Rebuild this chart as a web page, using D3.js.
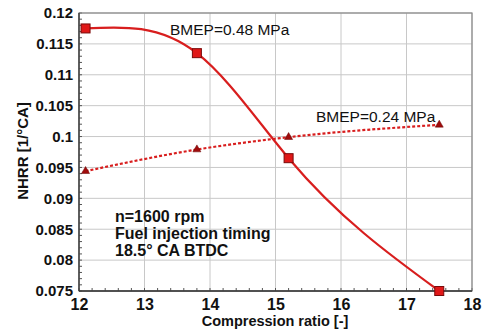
<!DOCTYPE html>
<html><head><meta charset="utf-8">
<script src="https://cdn.jsdelivr.net/npm/d3@7"></script>
<style>body{margin:0;background:#fff}svg text{font-family:Arial,"Liberation Sans",sans-serif}</style>
</head><body><svg id="c" width="486" height="330"></svg>
<script>
const cr = [12.1, 13.8, 15.2, 17.5];
const bmep048 = [0.1175, 0.1135, 0.0965, 0.075];
const bmep024 = [0.0944, 0.0979, 0.0999, 0.1019];
const xTicks = [12, 13, 14, 15, 16, 17, 18];
const yTicks = [0.075, 0.08, 0.085, 0.09, 0.095, 0.1, 0.105, 0.11, 0.115, 0.12];
const yTickLabels = ["0.075","0.08","0.085","0.09","0.095","0.1","0.105","0.11","0.115","0.12"];

// Natural cubic spline curve parameterised by x (a d3 curve factory)
function curveNaturalX(context) {
  return {
    areaStart() {}, areaEnd() {},
    lineStart() { this._x = []; this._y = []; },
    point(px, py) { this._x.push(+px); this._y.push(+py); },
    lineEnd() {
      const X = this._x, Y = this._y, n = X.length;
      if (!n) return;
      context.moveTo(X[0], Y[0]);
      if (n < 3) { for (let i = 1; i < n; i++) context.lineTo(X[i], Y[i]); return; }
      const h = [], s = [];
      for (let i = 0; i < n - 1; i++) { h.push(X[i + 1] - X[i]); s.push((Y[i + 1] - Y[i]) / h[i]); }
      // tridiagonal for interior second derivatives
      const M = new Array(n).fill(0);
      const a = [], b = [], c = [], r = [];
      for (let i = 1; i < n - 1; i++) {
        a.push(h[i - 1]); b.push(2 * (h[i - 1] + h[i])); c.push(h[i]); r.push(6 * (s[i] - s[i - 1]));
      }
      const m = b.length;
      for (let i = 1; i < m; i++) {
        const w = a[i] / b[i - 1];
        b[i] -= w * c[i - 1]; r[i] -= w * r[i - 1];
      }
      const sol = new Array(m);
      sol[m - 1] = r[m - 1] / b[m - 1];
      for (let i = m - 2; i >= 0; i--) sol[i] = (r[i] - c[i] * sol[i + 1]) / b[i];
      for (let i = 0; i < m; i++) M[i + 1] = sol[i];
      for (let i = 0; i < n - 1; i++) {
        const m0 = s[i] - h[i] * (2 * M[i] + M[i + 1]) / 6;
        const m1 = s[i] + h[i] * (M[i] + 2 * M[i + 1]) / 6;
        context.bezierCurveTo(X[i] + h[i] / 3, Y[i] + m0 * h[i] / 3,
                              X[i + 1] - h[i] / 3, Y[i + 1] - m1 * h[i] / 3,
                              X[i + 1], Y[i + 1]);
      }
    }
  };
}

const svg = d3.select("#c");
const L = 79, R = 472, T = 13, B = 291;
const x = d3.scaleLinear().domain([12, 18]).range([L, R]);
const y = d3.scaleLinear().domain([0.075, 0.12]).range([B, T]);
const red = "#d81e1e";

// grid
svg.append("g").selectAll("line").data(xTicks).join("line")
  .attr("x1", d => x(d)).attr("x2", d => x(d)).attr("y1", T).attr("y2", B)
  .attr("stroke", "#c8c8c8").attr("stroke-width", 1);
svg.append("g").selectAll("line").data(yTicks).join("line")
  .attr("y1", d => y(d)).attr("y2", d => y(d)).attr("x1", L).attr("x2", R)
  .attr("stroke", "#c8c8c8").attr("stroke-width", 1);

// minor ticks
const xMinor = d3.range(12, 18.001, 0.2);
const yMinor = d3.range(0.075, 0.12001, 0.001);
svg.append("g").selectAll("line").data(xMinor).join("line")
  .attr("x1", d => x(d)).attr("x2", d => x(d)).attr("y1", B).attr("y2", B - 3)
  .attr("stroke", "#555").attr("stroke-width", 1);
svg.append("g").selectAll("line").data(yMinor).join("line")
  .attr("y1", d => y(d)).attr("y2", d => y(d)).attr("x1", L).attr("x2", L + 3)
  .attr("stroke", "#555").attr("stroke-width", 1);

// frame
svg.append("rect").attr("x", L).attr("y", T).attr("width", R - L).attr("height", B - T)
  .attr("fill", "none").attr("stroke", "#888").attr("stroke-width", 1.2);
svg.append("line").attr("x1", L).attr("x2", L).attr("y1", T).attr("y2", B).attr("stroke", "#333").attr("stroke-width", 1.3);
svg.append("line").attr("x1", L).attr("x2", R).attr("y1", B).attr("y2", B).attr("stroke", "#333").attr("stroke-width", 1.3);

// axes labels
const xAxis = d3.axisBottom(x).tickValues(xTicks).tickSize(0).tickPadding(8).tickFormat(d3.format("d"));
const gx = svg.append("g").attr("transform", `translate(0,${B})`).call(xAxis);
gx.select(".domain").remove();
gx.selectAll("text").attr("font-size", 16).attr("font-weight", "bold").attr("fill", "#111")
  .attr("font-family", "Arial, 'Liberation Sans', sans-serif");
const yAxis = d3.axisLeft(y).tickValues(yTicks).tickSize(0).tickPadding(6).tickFormat((d, i) => yTickLabels[i]);
const gy = svg.append("g").attr("transform", `translate(${L},0)`).call(yAxis);
gy.select(".domain").remove();
gy.selectAll("text").attr("font-size", 15).attr("font-weight", "bold").attr("fill", "#111")
  .attr("font-family", "Arial, 'Liberation Sans', sans-serif");

svg.append("text").attr("x", 275).attr("y", 326).attr("text-anchor", "middle")
  .attr("font-size", 14.5).attr("font-weight", "bold").attr("fill", "#111").text("Compression ratio [-]");
svg.append("text").attr("transform", "translate(28,151) rotate(-90)").attr("text-anchor", "middle")
  .attr("font-size", 15).attr("font-weight", "bold").attr("fill", "#111").text("NHRR [1/\u00B0CA]");

// lines
const pts048 = cr.map((c, i) => [c, bmep048[i]]);
const pts024 = cr.map((c, i) => [c, bmep024[i]]);
const line048 = d3.line().x(d => x(d[0])).y(d => y(d[1])).curve(curveNaturalX);
const line024 = d3.line().x(d => x(d[0])).y(d => y(d[1])).curve(d3.curveMonotoneX);
svg.append("path").attr("d", line048(pts048))
  .attr("fill", "none").attr("stroke", red).attr("stroke-width", 2.2);
svg.append("path").attr("d", line024(pts024))
  .attr("fill", "none").attr("stroke", red).attr("stroke-width", 2.2).attr("stroke-dasharray", "3,2");

// markers
svg.append("g").selectAll("rect").data(pts048).join("rect")
  .attr("x", d => x(d[0]) - 4.5).attr("y", d => y(d[1]) - 4.5).attr("width", 9).attr("height", 9)
  .attr("fill", "#e01818").attr("stroke", "#7a0a0a").attr("stroke-width", 1);
const tri = d3.symbol().type(d3.symbolTriangle).size(28);
svg.append("g").selectAll("path").data(pts024).join("path")
  .attr("d", tri).attr("transform", d => `translate(${x(d[0])},${y(d[1])})`)
  .attr("fill", "#a00c0c").attr("stroke", "#600").attr("stroke-width", 0.5);

// annotations
svg.append("text").attr("x", 170).attr("y", 35).attr("font-size", 15.5).attr("fill", "#111").text("BMEP=0.48 MPa");
svg.append("text").attr("x", 316).attr("y", 122).attr("font-size", 15.5).attr("fill", "#111").text("BMEP=0.24 MPa");
const ann = svg.append("text").attr("x", 115).attr("font-size", 16).attr("font-weight", "bold").attr("fill", "#111");
ann.append("tspan").attr("x", 115).attr("y", 222).text("n=1600 rpm");
ann.append("tspan").attr("x", 115).attr("y", 239).text("Fuel injection timing");
ann.append("tspan").attr("x", 115).attr("y", 256).text("18.5\u00B0 CA BTDC");
</script></body></html>
